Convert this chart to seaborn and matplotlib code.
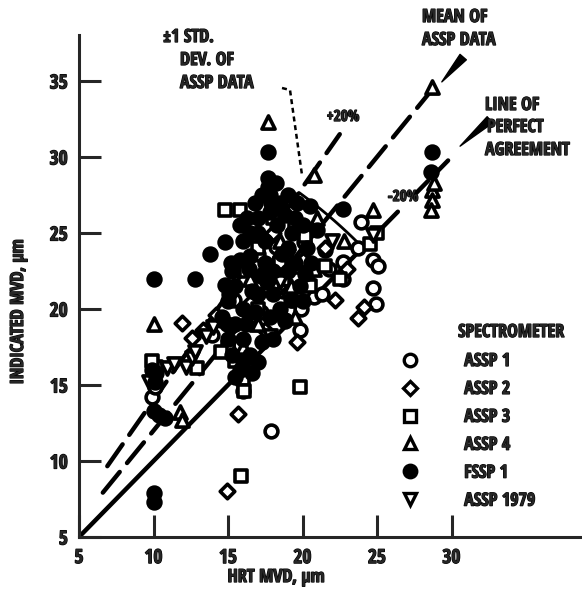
import numpy as np
import pandas as pd
import matplotlib
matplotlib.use("Agg")
import matplotlib.pyplot as plt
import matplotlib.patheffects as pe
import seaborn as sns
from matplotlib.lines import Line2D

sns.set_style("ticks")
FONT = ['Open Sans Condensed', 'DejaVu Sans']
plt.rcParams['font.family'] = FONT
plt.rcParams['font.weight'] = 'bold'

# ---------------- data ----------------
assp1_x = [9.9, 10.1, 13.9, 14.5, 15.2, 15.8, 16.3, 16.8, 17.4, 17.9, 18.2, 18.7, 18.8, 19.3, 19.8, 20.3, 20.8, 21.3,
           21.8, 22.7, 22.7, 23.7, 23.9, 24.7, 24.7, 24.9, 25.1, 16.0, 17.2, 18.4, 19.5, 20.1, 15.4, 17.0, 19.9, 21.5]
assp1_y = [14.2, 14.9, 18.3, 19.3, 18.9, 17.6, 16.2, 20.5, 22.4, 12.0, 24.1, 21.2, 19.3, 20.6, 18.6, 22.0, 20.8, 21.0,
           22.6, 23.1, 22.0, 24.0, 25.7, 23.2, 21.4, 20.3, 22.8, 14.6, 19.8, 23.2, 25.1, 24.4, 20.6, 23.6, 20.0, 23.9]

assp2_x = [11.9, 12.6, 13.3, 14.9, 15.7, 23.7, 24.1, 16.5, 17.5, 19.0, 20.0, 21.5, 18.0, 22.2, 14.2, 23.0, 15.5, 19.6]
assp2_y = [19.1, 18.1, 18.6, 8.0, 13.1, 19.4, 20.1, 20.4, 18.6, 21.1, 23.2, 24.0, 25.0, 20.6, 19.6, 22.6, 16.8, 17.8]

assp3_x = [14.8, 15.8, 19.8, 15.9, 12.9, 16.0, 16.1, 15.5, 16.2, 17.0, 18.5, 19.5, 20.5, 21.5, 22.5, 24.5, 25.0,
           15.0, 17.0, 18.0, 19.5, 20.2, 14.5, 10.0, 10.2, 9.9]
assp3_y = [26.5, 26.5, 14.9, 9.0, 16.1, 15.4, 14.6, 16.6, 22.5, 24.0, 23.0, 22.0, 21.5, 22.8, 22.0, 24.3, 25.0,
           17.5, 20.0, 26.0, 25.5, 24.8, 17.2, 15.5, 16.2, 16.6]

assp4_x = [10.0, 17.7, 20.8, 24.7, 20.8, 11.8, 11.9, 28.7, 28.7, 28.6, 28.8, 18.5, 19.2, 17.0, 16.5, 21.0, 19.5,
           22.8, 16.0, 28.7]
assp4_y = [19.0, 32.3, 28.8, 26.5, 22.6, 13.2, 12.7, 27.8, 27.2, 26.5, 28.3, 24.5, 21.5, 19.0, 22.0, 26.0, 19.5,
           24.5, 17.5, 34.6]

fssp1_x = [10.0, 12.8, 10.0, 10.0, 17.7, 17.7, 17.7, 17.8, 17.9, 17.8, 13.8, 14.8, 22.7, 28.7, 10.0, 10.4, 10.8,
           15.0, 15.5, 16.0, 16.5, 16.0, 15.0, 14.6, 16.5, 17.0, 17.5, 18.0, 18.5, 18.0, 19.0, 19.5, 20.0, 17.0,
           16.5, 15.5, 16.0, 18.5, 19.0, 17.5, 19.5, 20.0, 16.0, 15.5, 17.0, 18.3, 14.8, 15.3, 16.8, 19.0, 20.2,
           17.2, 15.8, 10.2, 28.6,
           15.2, 15.8, 16.3, 16.8, 17.3, 18.2, 18.8, 19.3, 20.3, 20.6, 19.8, 18.8, 17.8, 17.3, 16.2, 15.3, 15.8,
           16.6, 15.1, 14.9, 18.6, 17.6, 16.6, 19.6, 20.5, 21.0, 18.0, 17.0, 16.4, 19.2, 10.1, 9.9]
fssp1_y = [22.0, 22.0, 7.3, 7.9, 30.3, 28.6, 28.0, 27.5, 27.0, 26.4, 23.6, 24.4, 26.6, 30.3, 13.3, 13.0, 12.8,
           20.5, 19.0, 18.0, 17.0, 20.0, 18.0, 19.5, 23.5, 25.0, 23.0, 21.0, 20.0, 22.5, 24.0, 26.0, 25.5, 26.0,
           25.0, 21.5, 24.5, 27.0, 27.5, 24.5, 23.0, 20.5, 16.5, 15.5, 21.0, 25.5, 21.6, 22.5, 19.8, 22.5, 22.3,
           22.2, 23.2, 15.8, 29.0,
           23.0, 25.5, 26.0, 27.0, 27.5, 28.3, 26.2, 25.0, 24.0, 23.0, 21.5, 19.2, 19.5, 17.8, 19.0, 17.0, 16.0,
           15.8, 21.0, 19.0, 23.6, 21.8, 21.2, 27.0, 26.8, 25.2, 18.0, 16.5, 22.6, 20.6, 15.2, 16.0]

assp1979_x = [10.9, 11.4, 12.2, 12.6, 12.8, 13.5, 14.0, 18.5, 16.5, 19.0, 22.0, 24.7, 9.7, 17.8]
assp1979_y = [16.1, 16.4, 16.2, 16.8, 17.2, 18.2, 18.8, 21.8, 19.0, 23.5, 24.5, 24.9, 15.2, 18.2]

series_names = ["ASSP 1", "ASSP 2", "ASSP 3", "ASSP 4", "FSSP 1", "ASSP 1979"]
x_ticks = [5, 10, 15, 20, 25, 30]
y_ticks = [5, 10, 15, 20, 25, 30, 35]

# reference lines: slope of +1 std (upper), mean of ASSP data, perfect agreement
slope_upper, slope_mean, slope_perfect = 1.4, 1.2, 1.0

# ---------------- figure ----------------
W, H = 582, 593
fig = plt.figure(figsize=(W / 100, H / 100), dpi=100)
ax = fig.add_axes([79 / W, 56 / H, 503 / W, 502 / H])
ax.set_xlim(5, 5 + 503 / 14.9)
ax.set_ylim(5, 5 + 502 / 15.2)

def P(px, py):
    """figure-pixel -> figure fraction"""
    return px / W, 1 - py / H

def D(px, py):
    """figure-pixel -> data coordinates"""
    return 5 + (px - 79) / 14.9, 5 + (537 - py) / 15.2

BOLD = [pe.withStroke(linewidth=0.9, foreground="black")]

styles = {
    "ASSP 1": dict(marker="o", fc="white"),
    "ASSP 2": dict(marker="D", fc="white"),
    "ASSP 3": dict(marker="s", fc="white"),
    "ASSP 4": dict(marker="^", fc="white"),
    "FSSP 1": dict(marker="o", fc="black"),
    "ASSP 1979": dict(marker="v", fc="white"),
}
sizes = {"o": 85, "D": 55, "s": 80, "^": 90, "v": 90}
data = {
    "ASSP 1": (assp1_x, assp1_y),
    "ASSP 2": (assp2_x, assp2_y),
    "ASSP 3": (assp3_x, assp3_y),
    "ASSP 4": (assp4_x, assp4_y),
    "ASSP 1979": (assp1979_x, assp1979_y),
    "FSSP 1": (fssp1_x, fssp1_y),
}

# reference lines
xu = np.array([6.9, 22.5])
ax.plot(xu, slope_upper * xu, color="black", lw=3.2, dashes=(6, 2.6), dash_capstyle="round")
xm = np.array([6.6, 28.5])
ax.plot(xm, slope_mean * xm, color="black", lw=3.2, dashes=(6, 2.6), dash_capstyle="round")
xp = np.array([5.0, 26.4])
ax.plot(xp, slope_perfect * xp, color="black", lw=3.2, solid_capstyle="round")
xp2 = np.array([27.6, 30.2])
ax.plot(xp2, slope_perfect * xp2, color="black", lw=3.2, dashes=(4, 2.4), dash_capstyle="round")

# +/- 1 std arc
theta = np.linspace(np.arctan(slope_upper), np.arctan(slope_perfect), 40)
r = 34.0
ax.plot(r * np.cos(theta), r * np.sin(theta), color="black", lw=2.0)

# scatter points
for name in ["ASSP 1", "ASSP 2", "ASSP 3", "ASSP 4", "ASSP 1979", "FSSP 1"]:
    xs, ys = data[name]
    df = pd.DataFrame({"x": xs, "y": ys})
    st = styles[name]
    sns.scatterplot(data=df, x="x", y="y", ax=ax, marker=st["marker"], s=sizes[st["marker"]],
                    facecolor=st["fc"], edgecolor="black", linewidth=2.6, zorder=3, legend=False)

# axes style
sns.despine(ax=ax)
for sp in ["left", "bottom"]:
    ax.spines[sp].set_linewidth(2.2)
ax.set_xticks(x_ticks)
ax.set_yticks(y_ticks)
ax.set_xticklabels([str(t) for t in x_ticks])
ax.set_yticklabels([str(t) for t in y_ticks])
ax.tick_params(axis="both", direction="in", length=16, width=2.2, labelsize=14, pad=8)
for lab in ax.get_xticklabels() + ax.get_yticklabels():
    lab.set_fontweight("bold")
    lab.set_path_effects(BOLD)
ax.set_xlabel("")
ax.set_ylabel("")

FS = 13
def T(px, py, s, **kw):
    kw.setdefault("ha", "left")
    kw.setdefault("fontsize", FS)
    return fig.text(*P(px, py), s, va="center", fontweight="bold", path_effects=BOLD, **kw)

T(276, 577, "HRT MVD, μm", ha="center")
T(18, 312, "INDICATED MVD, μm", ha="center", rotation=90)

# annotations
T(163, 37, "±1 STD.")
T(180, 60, "DEV. OF")
T(180, 83, "ASSP DATA")
T(422, 17, "MEAN OF")
T(422, 40, "ASSP DATA")
T(485, 105, "LINE OF")
T(487, 127, "PERFECT")
T(485, 150, "AGREEMENT")
T(343, 117, "+20%", ha="center", fontsize=11)
T(403, 197, "-20%", ha="center", fontsize=11)

# dotted leader for std label
lx, ly = zip(D(282, 88), D(290, 90), D(302, 175))
ax.plot(lx, ly, color="black", lw=1.8, dashes=(2, 1.5), clip_on=False)

# thick arrows
ax.annotate("", xy=D(440, 84), xytext=D(465, 55), xycoords="data", textcoords="data",
            arrowprops=dict(arrowstyle="wedge,tail_width=0.6", color="black", lw=1), annotation_clip=False)
ax.annotate("", xy=D(458, 148), xytext=D(492, 118), xycoords="data", textcoords="data",
            arrowprops=dict(arrowstyle="wedge,tail_width=0.6", color="black", lw=1), annotation_clip=False)

# legend
T(511, 332, "SPECTROMETER", ha="center")
handles = []
for name in series_names:
    st = styles[name]
    handles.append(Line2D([], [], linestyle="none", marker=st["marker"], markersize=9 if st["marker"] != "D" else 7.5,
                          markerfacecolor=st["fc"], markeredgecolor="black", markeredgewidth=2.4))
leg = ax.legend(handles, series_names, loc="upper left", bbox_to_anchor=P(401, 352),
                bbox_transform=fig.transFigure, frameon=False, fontsize=FS, labelspacing=0.55,
                handletextpad=2.5, handlelength=1.0, borderpad=0, borderaxespad=0)
for t in leg.get_texts():
    t.set_fontweight("bold")
    t.set_path_effects(BOLD)

fig.savefig("out.png", dpi=100)
